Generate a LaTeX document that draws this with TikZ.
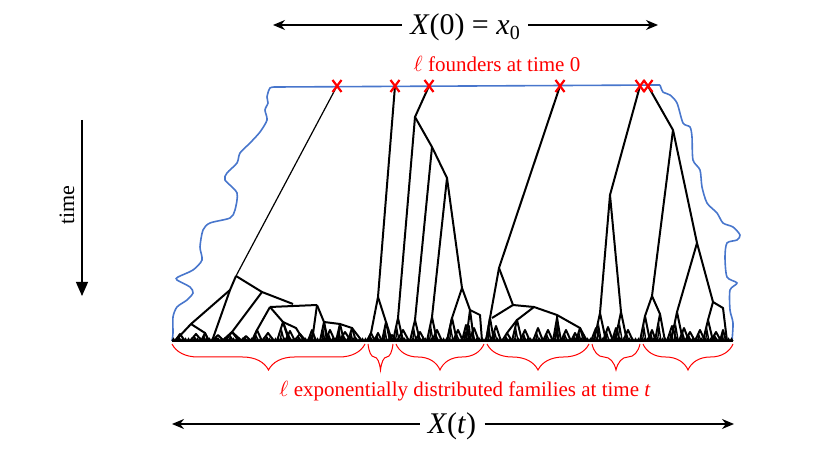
\documentclass[tikz,border=0pt]{standalone}
\usepackage{fontspec}
\setmainfont{Liberation Serif}
\usetikzlibrary{arrows.meta,decorations.pathreplacing}
\definecolor{hullblue}{RGB}{72,118,204}
\tikzset{
	branch/.style={line width=1pt, line join=round},
	hull/.style={draw=hullblue, line width=0.8pt},
	founder/.style={red, line width=1.1pt},
	famebrace/.style={red, line width=0.5pt, decorate, decoration={brace, mirror, amplitude=13pt}},
}

\begin{document}
\begin{tikzpicture}[x=0.5pt,y=-0.5pt]
	\useasboundingbox (0,0) rectangle (830,459);
	% outline of the population
	\draw[hull] plot[smooth, tension=0.45] coordinates {(172,341) (173,333) (173,317) (177,307) (187,300) (193,293) (190,287) (177,280) (178,277) (193,270) (202,260) (200,247) (203,230) (210,223) (230,218) (235,210) (237,193) (225,180) (227,173) (237,163) (240,153) (250,143) (260,132) (267,120) (265,110) (268,103) (267,97) (270,88) (277,87)};
	\draw[hull] (277,87) -- (660,85);
	\draw[hull] plot[smooth, tension=0.45] coordinates {(660,85) (663,92) (670,95) (677,103) (683,123) (690,127) (692,137) (693,160) (700,170) (702,187) (707,203) (717,213) (723,223) (733,227) (740,235) (737,240) (727,243) (725,257) (727,277) (737,283) (730,290) (730,310) (733,323) (732,341)};
	% family 1
	\draw[line width=0.6pt] (337,86) -- (236,276);
	\draw[branch] (236,276) -- (230,290) -- (191,324) -- (175,341);
	\draw[branch] (230,290) -- (212,341);
	\draw[branch] (191,324) -- (205,333) -- (209,341);
	\draw[branch] (236,276) -- (262,292) -- (293,304);
	\draw[branch] (262,292) -- (232,332) -- (222,341);
	\draw[branch] (232,332) -- (242,341);
	\draw[branch] (270,307) -- (317,305);
	\draw[branch] (270,307) -- (257,330) -- (252,341);
	\draw[branch] (270,307) -- (283,322) -- (290,341);
	\draw[branch] (283,322) -- (296,328) -- (304,341);
	\draw[branch] (317,305) -- (312,341);
	\draw[branch] (317,305) -- (324,322) -- (340,324) -- (352,328) -- (362,341);
	\draw[branch] (324,322) -- (327,341);
	\draw[branch] (340,324) -- (338,341);
	% family 2
	\draw[branch] (395,86) -- (378,297) -- (371,333) -- (367,341);
	\draw[branch] (378,297) -- (386,322) -- (392,341);
	% family 3
	\draw[branch] (429,86) -- (415,117) -- (398,318);
	\draw[branch] (415,117) -- (432,147) -- (415,320);
	\draw[branch] (432,147) -- (447,178) -- (432,317);
	\draw[branch] (447,178) -- (462,288) -- (452,318) -- (447,341);
	\draw[branch] (462,288) -- (470,310) -- (480,315) -- (482,341);
	% family 4
	\draw[branch] (560,86) -- (499,268) -- (490,318) -- (486,341);
	\draw[branch] (499,268) -- (513,305) -- (492,318);
	\draw[branch] (513,305) -- (534,307) -- (557,315) -- (580,328) -- (587,341);
	\draw[branch] (534,307) -- (517,320) -- (507,333);
	\draw[branch] (557,315) -- (558,341);
	% family 5
	\draw[branch] (640,86) -- (610,195) -- (600,313);
	\draw[branch] (610,195) -- (621,312);
	% family 6
	\draw[branch] (648,86) -- (673,130) -- (652,296) -- (645,316);
	\draw[branch] (652,296) -- (660,314);
	\draw[branch] (673,130) -- (697,243) -- (677,312);
	\draw[branch] (697,243) -- (713,302) -- (723,308) -- (727,341);
	\draw[branch] (713,302) -- (708,320);
	% small families near time t
	\foreach \x/\y/\w in {180/334/5, 196/334/6, 205/333/4, 218/335/6, 232/332/7, 246/336/5, 257/330/5, 268/333/6, 283/322/6, 290/331/5, 300/334/6, 312/330/4, 324/322/4, 330/330/5, 340/324/4, 345/332/6, 352/328/4,
		371/333/4, 378/333/4, 386/322/4, 392/335/4,
		398/318/5, 403/330/6, 415/320/5, 420/332/5, 432/317/5, 437/330/5, 452/318/5, 458/330/5, 470/310/4, 466/325/4, 474/328/5,
		490/318/4, 496/326/5, 507/333/5, 517/320/5, 525/330/5, 538/328/5, 548/330/5, 557/318/4, 566/330/5, 575/333/4, 580/328/4,
		600/313/6, 596/328/5, 608/327/5, 621/312/6, 616/328/4, 628/330/5,
		645/316/5, 660/314/5, 652/330/4, 677/312/6, 672/326/5, 684/328/5, 690/332/5, 700/330/5, 708/320/5, 716/332/5, 723/330/3}
		{\draw[branch] (\x-\w,341) -- (\x,\y) -- (\x+\w,341);
		 \draw[line width=0.7pt] (\x-0.5*\w,341) -- (\x-0.2*\w,0.5*\y+170.5) -- (\x+0.2*\w,341);}
	\foreach \x in {172,175,...,730} \draw[line width=0.6pt] (\x,341) -- (\x+1.5,338.5) -- (\x+3,341);
	\draw[line width=1.3pt] (172,341) -- (733,341);
	% founders
	\foreach \x in {337,395,429,560,640,648}
		\draw[founder] (\x-4.5,80) -- (\x+4.5,92) (\x-4.5,92) -- (\x+4.5,80);
	\node[red, font=\fontsize{10.5}{12}\selectfont] (founders) at (497,64) {$\ell$ founders at time 0};
	% families
	\draw[famebrace] (172,344) -- (365,344);
	\draw[famebrace] (368,344) -- (393,344);
	\draw[famebrace] (396,344) -- (484,344);
	\draw[famebrace] (487,344) -- (589,344);
	\draw[famebrace] (592,344) -- (640,344);
	\draw[famebrace] (643,344) -- (733,344);
	\node[red, font=\fontsize{10.5}{12}\selectfont] (families) at (465,391) {$\ell$ exponentially distributed families at time \textit{t}};
	% population sizes
	\node[font=\fontsize{15}{18}\selectfont, inner sep=4pt] (xzero) at (465,27) {\textit{X}(0) = \textit{x}\raisebox{-0.35ex}{\fontsize{10}{12}\selectfont 0}};
	\coordinate (xzeroL) at (273,25);
	\coordinate (xzeroR) at (658,25);
	\draw[-{Stealth[length=6pt,width=5pt]}, line width=0.6pt] (xzero.west |- xzeroL) -- (xzeroL);
	\draw[-{Stealth[length=6pt,width=5pt]}, line width=0.6pt] (xzero.east |- xzeroR) -- (xzeroR);
	\node[font=\fontsize{15}{18}\selectfont, inner sep=4pt] (xt) at (452,426) {\textit{X}(\textit{t})};
	\coordinate (xtL) at (172,424);
	\coordinate (xtR) at (734,424);
	\draw[-{Stealth[length=6pt,width=5pt]}, line width=0.6pt] (xt.west |- xtL) -- (xtL);
	\draw[-{Stealth[length=6pt,width=5pt]}, line width=0.6pt] (xt.east |- xtR) -- (xtR);
	% time
	\coordinate (tstart) at (82,120);
	\coordinate (tend) at (82,296);
	\draw[-{Triangle[length=7pt,width=6pt]}, line width=0.6pt] (tstart) -- (tend);
	\node[rotate=90, font=\fontsize{11}{13}\selectfont] (timelabel) at (67,205) {time};
\end{tikzpicture}
\end{document}
